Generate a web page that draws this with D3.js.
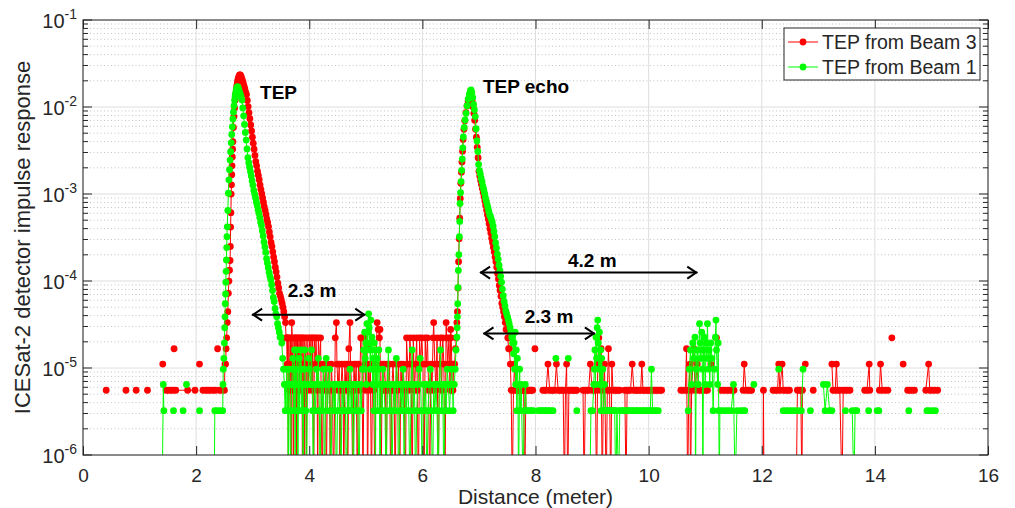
<!DOCTYPE html>
<html>
<head>
<meta charset="utf-8">
<script src="https://cdn.jsdelivr.net/npm/d3@7"></script>
<style>
body { margin: 0; background: #fff; }
svg text { font-family: "Liberation Sans", Helvetica, Arial, sans-serif; fill: #262626; }
</style>
</head>
<body>
<script>
// tick values
const xTicks = [0, 2, 4, 6, 8, 10, 12, 14, 16];
const yDecades = [1e-6, 1e-5, 1e-4, 1e-3, 1e-2, 1e-1];
const yExponents = ['-6', '-5', '-4', '-3', '-2', '-1'];

const seriesNames = ['TEP from Beam 3', 'TEP from Beam 1'];

// response of one photon count for each beam
const beam3Unit = 5.55e-6;
const beam1Unit = 3.23e-6;

// Beam 3 (red): [distance m, photon count], 0 = empty bin, null = gap
const beam3Pre = [[0.41,1],null,[0.76,1],null,[0.94,1],null,[1.14,1],null,[1.41,2],null,
  [1.47,1],[1.51,1],[1.55,1],[1.59,1],null,[1.61,3],null,[1.64,1],[1.85,1],[1.98,1],null,[2.06,2],null,
  [2.12,1],[2.17,1],[2.21,1],[2.25,1],[2.30,1],[2.34,1],null,[2.38,3],null,[2.41,1],[2.45,1]];

const beam3Pulse = [[2.50,1],[2.51,2],[2.52,2],[2.53,3],[2.54,4],[2.55,6],[2.56,8],[2.57,13],[2.58,18],[2.59,24],
  [2.60,31],[2.605,45],[2.61,75],[2.615,110],[2.62,180],[2.625,230],[2.63,300],[2.635,380],[2.64,480],[2.645,590],
  [2.65,720],[2.66,1050],[2.67,1400],[2.68,1750],[2.69,2150],[2.70,2550],[2.71,2900],[2.72,3200],[2.73,3500],
  [2.74,3750],[2.75,3950],[2.76,4100],[2.77,4200],[2.78,4200],[2.79,4100],
  [2.800,3980],[2.815,3715],[2.830,3470],[2.845,3160],[2.860,2950],[2.875,2690],[2.890,2510],[2.905,2140],
  [2.920,1820],[2.935,1550],[2.950,1320],[2.965,1120],[2.980,955],[2.995,810],[3.010,690],[3.025,590],
  [3.040,500],[3.055,425],[3.070,380],[3.085,330],[3.100,295],[3.115,263],[3.130,229],[3.145,204],[3.160,182],
  [3.175,162],[3.190,145],[3.205,129],[3.220,117],[3.235,105],[3.250,93],[3.265,85],[3.280,76],[3.295,66],
  [3.310,58],[3.325,50],[3.340,45],[3.355,39],[3.370,34],[3.385,30],[3.400,26],[3.415,23],[3.430,20],
  [3.445,17],[3.460,15],[3.475,13],[3.490,12],[3.505,11],[3.520,10],[3.535,9],[3.550,8],[3.565,7]];

const beam3Gap = [[3.58,6],[3.59,4],[3.60,4],[3.61,2],[3.62,4],[3.63,0],[3.64,4],[3.65,1],[3.66,2],[3.67,4],
  [3.68,0],[3.69,6],[3.70,4],[3.71,1],[3.72,0],[3.73,4],[3.74,2],[3.75,4],[3.76,1],[3.77,4],[3.78,0],[3.79,4],
  [3.80,2],[3.82,4],[3.83,1],[3.84,4],[3.86,2],[3.87,4],[3.88,0],[3.89,4],[3.90,1],[3.91,0],[3.92,4],[3.94,2],
  [3.95,0],[3.96,4],[3.98,1],[4.00,4],[4.02,2],[4.03,4],[4.05,1],[4.06,4],[4.08,0],[4.09,4],[4.11,2],[4.12,4],
  [4.14,1],[4.15,0],[4.16,4],[4.18,2],[4.20,4],[4.21,1],[4.23,0],[4.25,2],[4.27,1],[4.29,2],[4.30,0],[4.32,1],
  [4.34,2],[4.36,1],[4.37,0],[4.39,2],[4.41,1],[4.43,0],[4.46,4],[4.48,6],[4.49,2],[4.51,1],[4.53,2],[4.54,0],
  [4.56,1],[4.58,2],[4.60,1],[4.61,0],[4.63,2],[4.65,1],[4.67,2],[4.68,0],[4.70,3],[4.72,6],[4.73,2],[4.75,1],
  [4.77,0],[4.79,2],[4.81,1],[4.83,2],[4.85,0],[4.87,2],[4.89,1],[4.91,4],[4.93,4],[4.95,0],[4.97,4],[4.99,2],
  [5.00,1],[5.02,3],[5.03,0],[5.05,2],[5.07,1],[5.08,2],[5.10,0],[5.12,2],[5.14,1],[5.16,0],[5.18,2],[5.20,6],
  [5.22,5],[5.24,4],[5.25,5],[5.27,0],[5.29,2],[5.31,1],[5.33,2],[5.35,1],[5.36,0],[5.38,2],[5.40,1],[5.42,2],
  [5.44,0],[5.46,1],[5.48,2],[5.50,1],[5.52,0],[5.54,2],[5.56,1],[5.58,2],[5.60,0],[5.62,2],[5.64,1],[5.66,2],
  [5.68,1],[5.70,0],[5.72,4],[5.74,2],[5.76,1],[5.78,4],[5.80,2],[5.82,0],[5.84,4],[5.86,1],[5.88,2],[5.90,4],
  [5.91,1],[5.93,0],[5.95,4],[5.97,2],[5.99,4],[6.01,2],[6.03,0],[6.05,4],[6.07,2],[6.09,4],[6.11,1],[6.13,0],
  [6.15,2],[6.17,1],[6.19,4],[6.20,6],[6.22,2],[6.24,1],[6.26,4],[6.28,0],[6.30,2],[6.32,4],[6.34,1],[6.36,4],
  [6.38,2],[6.40,0],[6.42,6],[6.43,4],[6.45,2],[6.47,4],[6.49,1],[6.50,5],[6.51,4],[6.52,2],[6.53,1]];

const beam3Echo = [[6.54,1],[6.555,2],[6.57,2],[6.585,3],[6.60,4],[6.61,6],[6.62,8],[6.63,15],[6.64,30],[6.65,55],
  [6.66,95],[6.67,160],[6.68,240],[6.69,320],[6.70,420],[6.71,560],[6.72,760],[6.735,1000],[6.75,1250],[6.77,1550],
  [6.79,1850],[6.81,2100],[6.83,2280],[6.85,2340],
  [6.865,2290],[6.88,2100],[6.895,1800],[6.91,1530],[6.925,1270],[6.94,1000],[6.955,810],[6.97,620],[6.985,470],
  [7.00,330],[7.015,290],[7.03,258],[7.045,232],[7.06,208],[7.075,187],[7.09,168],[7.105,150],[7.12,134],
  [7.135,118],[7.15,104],[7.165,93],[7.18,82],[7.195,72],[7.21,64],[7.225,56],[7.24,50],[7.255,44],[7.27,39],
  [7.285,34],[7.30,30],[7.315,26],[7.33,22],[7.345,19],[7.36,16],[7.375,14],[7.39,12],[7.405,10],[7.42,9],
  [7.435,8],[7.45,7],[7.465,6],[7.48,5],[7.495,5],[7.51,4],[7.525,3],[7.54,3],[7.555,2]];

const beam3Post = [[7.57,1],[7.59,0],[7.61,1],[7.63,2],[7.65,1],[7.67,1],[7.69,1],[7.71,1],[7.73,1],[7.75,1],
  [7.77,1],[7.79,1],[7.81,0],[7.83,1],[7.85,1],[7.87,1],[7.89,1],[7.91,1],[7.93,1],[7.95,1],null,[7.99,3],null,
  [8.13,1],[8.16,1],[8.19,1],[8.22,2],[8.25,1],[8.28,1],[8.31,1],[8.34,1],[8.37,2],[8.40,1],[8.43,1],[8.46,1],
  [8.49,1],[8.51,0],[8.53,1],[8.55,2],[8.57,0],[8.59,1],[8.62,1],[8.65,1],[8.68,1],[8.71,1],[8.73,1],null,
  [8.84,1],[8.86,0],[8.88,1],[8.91,1],[8.94,1],[8.97,2],[9.00,1],[9.03,1],[9.06,1],[9.08,0],[9.10,2],[9.12,4],
  [9.14,1],[9.16,3],[9.18,0],[9.20,1],[9.22,2],[9.25,0],[9.27,1],[9.29,3],[9.31,1],[9.33,0],[9.35,2],[9.37,1],
  [9.40,1],[9.43,1],[9.46,1],[9.49,1],null,[9.58,1],[9.60,0],[9.62,1],[9.65,1],[9.68,1],[9.71,2],[9.74,1],
  [9.77,1],[9.80,1],[9.83,1],[9.86,1],[9.88,2],[9.90,1],[9.93,1],[9.96,1],[9.99,1],[10.02,1],[10.05,1],
  [10.08,1],[10.11,1],[10.14,1],[10.17,1],[10.20,1],[10.23,1],null,
  [10.57,1],[10.61,1],[10.65,1],[10.67,3],[10.69,0],[10.71,1],[10.73,2],[10.74,0],[10.76,1],[10.80,3],
  [10.82,1],[10.86,2],[10.88,1],[10.92,1],[10.96,1],[11.00,1],[11.04,1],null,[11.10,2],null,[11.20,4],null,
  [11.28,1],[11.32,1],[11.36,1],[11.40,1],[11.44,1],[11.48,1],[11.51,1],null,
  [11.67,1],[11.69,2],[11.72,1],[11.76,1],[11.80,1],[11.82,1],null,[12.02,0],[12.03,1],[12.04,0],null,
  [12.20,1],[12.24,1],[12.28,1],[12.30,2],[12.32,1],[12.36,2],[12.38,1],[12.42,1],[12.46,1],[12.49,1],null,
  [12.61,0],[12.63,1],[12.66,1],[12.69,1],[12.71,0],[12.72,1],null,[12.77,2],null,[12.91,1],null,
  [13.24,2],[13.26,1],[13.30,1],[13.32,2],[13.34,1],[13.38,1],[13.42,0],[13.44,1],[13.48,1],[13.52,1],[13.56,1],null,
  [13.82,1],[13.86,1],[13.90,2],[13.91,1],null,[14.08,1],[14.10,2],[14.13,1],[14.18,1],[14.23,1],null,
  [14.30,4],null,[14.50,2],null,[14.58,1],[14.62,1],[14.66,1],[14.70,1],null,
  [14.90,1],[14.95,2],[14.97,1],[15.01,1],[15.06,1],[15.11,1]];

// Beam 1 (green)
const beam1Pre = [[1.40,0],[1.42,2],[1.43,1],null,[1.60,1],null,[1.77,1],null,[1.83,2],null,[2.06,1],null,
  [2.32,0],[2.33,1],[2.37,1],[2.42,1],null];

const beam1Pulse = [[2.47,1],[2.475,2],[2.48,3],[2.49,4],[2.50,6],[2.505,9],[2.51,12],[2.515,17],[2.52,22],
  [2.525,30],[2.53,40],[2.535,54],[2.54,75],[2.545,100],[2.55,130],[2.56,200],[2.57,316],[2.58,450],[2.59,590],
  [2.60,760],[2.61,950],[2.62,1200],[2.63,1500],[2.64,1830],[2.65,2250],[2.66,2700],[2.67,3200],[2.68,3720],
  [2.69,4150],[2.70,4550],[2.71,4900],[2.72,5150],[2.73,5290],[2.74,5250],
  [2.750,5010],[2.765,4680],[2.780,4370],[2.795,4070],[2.810,3720],[2.825,3020],[2.840,2450],[2.855,1950],
  [2.870,1580],[2.885,1290],[2.900,1020],[2.915,810],[2.930,710],[2.945,630],[2.960,560],[2.975,500],
  [2.990,437],[3.005,390],[3.020,340],[3.035,309],[3.050,282],[3.065,251],[3.080,229],[3.095,204],[3.110,186],
  [3.125,166],[3.140,148],[3.155,135],[3.170,117],[3.185,102],[3.200,87],[3.215,76],[3.230,66],[3.245,56],
  [3.260,50],[3.275,44],[3.290,39],[3.305,35],[3.320,32],[3.335,28],[3.350,24],[3.365,20],[3.380,18],
  [3.395,15],[3.410,13],[3.425,12],[3.440,10],[3.455,9],[3.470,8],[3.485,7],[3.500,7],[3.515,6],[3.530,4],
  [3.545,3],[3.560,2],[3.575,1]];

const beam1Gap = [[3.58,2],[3.59,1],[3.60,3],[3.61,2],[3.62,1],[3.63,0],[3.64,3],[3.65,2],[3.66,1],[3.67,0],
  [3.68,1],[3.69,2],[3.70,3],[3.71,4],[3.72,2],[3.73,1],[3.74,5],[3.75,0],[3.76,3],[3.77,2],[3.78,5],[3.79,1],
  [3.80,0],[3.81,2],[3.82,4],[3.83,1],[3.84,2],[3.85,5],[3.86,3],[3.87,1],[3.88,2],[3.89,0],[3.90,1],[3.91,3],
  [3.92,5],[3.93,2],[3.94,1],[3.95,0],[3.97,2],[3.99,4],[4.00,3],[4.02,2],[4.04,5],[4.06,1],[4.07,0],[4.09,2],
  [4.11,1],[4.13,3],[4.15,2],[4.16,4],[4.18,1],[4.19,0],[4.21,2],[4.23,1],[4.25,3],[4.27,0],[4.29,2],[4.30,4],
  [4.32,1],[4.34,2],[4.36,3],[4.38,0],[4.40,1],[4.42,2],[4.44,1],[4.46,2],[4.48,0],[4.50,1],[4.52,2],[4.54,1],
  [4.56,0],[4.58,2],[4.60,1],[4.62,2],[4.64,1],[4.66,0],[4.68,2],[4.70,1],[4.72,3],[4.74,1],[4.76,2],[4.78,0],
  [4.80,2],[4.82,1],[4.84,2],[4.86,1],[4.88,0],[4.90,2],[4.92,1],[4.94,3],[4.96,5],[4.97,3],[4.98,8],[4.99,4],
  [5.00,6],[5.01,2],[5.02,10],[5.03,5],[5.04,8],[5.05,13],[5.06,9],[5.07,6],[5.08,3],[5.09,11],[5.10,5],
  [5.11,7],[5.12,2],[5.13,4],[5.14,1],[5.15,6],[5.16,3],[5.17,0],[5.18,5],[5.19,2],[5.20,4],[5.21,1],[5.22,3],
  [5.23,5],[5.24,2],[5.25,0],[5.27,2],[5.29,1],[5.30,3],[5.32,2],[5.34,1],[5.36,0],[5.38,2],[5.40,5],[5.42,1],
  [5.44,2],[5.46,0],[5.48,1],[5.50,2],[5.52,1],[5.54,4],[5.56,2],[5.58,0],[5.60,1],[5.62,2],[5.64,1],[5.66,3],
  [5.68,0],[5.70,2],[5.72,1],[5.74,2],[5.76,1],[5.78,0],[5.80,2],[5.82,5],[5.84,1],[5.86,2],[5.88,0],[5.90,1],
  [5.92,2],[5.94,3],[5.96,4],[5.98,1],[6.00,0],[6.02,2],[6.04,1],[6.06,2],[6.08,0],[6.10,1],[6.12,2],[6.14,3],
  [6.16,1],[6.18,0],[6.20,2],[6.22,1],[6.24,2],[6.26,1],[6.28,0],[6.30,2],[6.32,5],[6.34,1],[6.36,2],[6.38,0],
  [6.40,2],[6.42,1],[6.44,3],[6.46,2],[6.48,1],[6.50,2],[6.52,3],[6.53,2]];

const beam1Echo = [[6.545,1],[6.55,2],[6.565,2],[6.58,3],[6.595,5],[6.61,7],[6.615,9],[6.62,12],[6.625,17],
  [6.63,26],[6.636,41],[6.645,62],[6.654,100],[6.66,150],[6.666,241],[6.675,320],[6.685,430],[6.695,580],
  [6.705,780],[6.715,1050],[6.724,1400],[6.74,1800],[6.755,2200],[6.772,2620],[6.79,3200],[6.81,3800],
  [6.83,4350],[6.85,4750],[6.86,4860],
  [6.875,4570],[6.890,3980],[6.905,3310],[6.920,2880],[6.935,2400],[6.950,1740],[6.965,1260],[6.980,955],
  [6.995,676],[7.010,575],[7.025,525],[7.040,468],[7.055,427],[7.070,380],[7.085,347],[7.100,316],[7.115,282],
  [7.130,257],[7.145,234],[7.160,214],[7.175,195],[7.190,178],[7.205,170],[7.220,158],[7.235,148],[7.250,132],
  [7.265,115],[7.280,100],[7.295,85],[7.310,74],[7.325,63],[7.340,55],[7.355,47],[7.370,41],[7.385,35],
  [7.400,30],[7.415,25],[7.430,21],[7.445,18],[7.460,16],[7.475,14],[7.490,13],[7.505,12],[7.520,11],
  [7.535,10],[7.550,9],[7.565,8],[7.580,7],[7.595,6],[7.610,4.5]];

const beam1Post = [[7.62,6],[7.63,3],[7.64,8],[7.65,2],[7.66,5],[7.67,1],[7.68,4],[7.69,2],[7.70,0],[7.72,3],
  [7.73,1],[7.75,2],[7.78,0],[7.80,1],[7.82,2],[7.84,1],[7.87,1],[7.90,1],[7.93,1],[7.96,1],null,
  [8.05,1],[8.08,1],[8.11,1],[8.14,1],[8.17,1],[8.20,1],[8.23,1],[8.27,1],[8.31,1],null,[8.36,4],null,
  [8.58,4],null,[8.73,1],null,[8.96,0],[8.98,1],[9.01,1],[9.03,2],[9.04,3],[9.05,5],[9.06,2],[9.07,7],[9.08,4],
  [9.09,9],[9.10,11],[9.11,6],[9.12,3],[9.13,8],[9.14,2],[9.15,5],[9.16,1],[9.17,4],[9.18,2],[9.19,3],[9.20,1],
  [9.22,2],[9.24,1],[9.26,1],[9.28,1],[9.30,1],[9.32,1],[9.35,1],[9.38,1],[9.40,1],[9.42,0],[9.44,1],[9.47,0],
  [9.49,1],[9.52,1],[9.55,1],[9.58,1],[9.61,1],[9.64,1],[9.67,1],[9.70,1],[9.73,1],[9.76,1],[9.79,1],[9.82,1],
  [9.85,1],[9.88,1],[9.91,1],[9.94,1],[9.97,1],[10.00,1],[10.03,1],[10.05,3],[10.07,1],[10.10,1],[10.13,1],
  [10.17,1],null,
  [10.70,1],[10.72,3],[10.74,5],[10.76,2],[10.78,6],[10.80,4],[10.82,7],[10.83,0],[10.84,3],[10.86,5],[10.88,2],
  [10.90,10],[10.91,6],[10.92,4],[10.94,8],[10.95,3],[10.96,0],[10.97,5],[10.98,7],[11.00,2],[11.02,6],[11.03,4],
  [11.04,10],[11.06,3],[11.07,5],[11.08,2],[11.10,6],[11.12,4],[11.14,1],[11.16,3],[11.18,7],[11.19,11],
  [11.20,5],[11.22,2],[11.23,6],[11.24,1],[11.25,0],[11.26,1],[11.31,1],[11.36,1],[11.41,1],[11.46,1],[11.50,2],
  [11.53,0],[11.56,1],[11.62,1],[11.67,1],[11.70,1],null,[11.86,2],null,[12.30,3],null,
  [12.38,1],[12.43,1],[12.48,1],[12.53,1],[12.58,1],[12.64,1],[12.70,1],[12.73,3],null,[12.86,1],null,
  [13.09,2],[13.12,1],[13.16,2],[13.20,1],[13.24,1],null,[13.48,1],null,[13.60,1],[13.63,0],[13.65,1],[13.68,1],null,
  [13.89,1],null,[14.04,1],[14.07,1],null,[14.60,1],null,[14.92,1],[14.96,1],[15.02,1],[15.07,1]];

// annotations (distance m, response)
const labelTexts = ['TEP', 'TEP echo', '2.3 m', '4.2 m', '2.3 m'];
const labelX = [3.13, 7.07, 3.62, 8.575, 7.81];
const labelY = [1.24e-2, 1.45e-2, 6.55e-5, 1.45e-4, 3.29e-5];
const arrowFrom = [2.99, 7.02, 7.08];
const arrowTo = [4.99, 10.86, 9.05];
const arrowY = [4.1e-5, 1.25e-4, 2.5e-5];

const series = [
  { name: seriesNames[0], color: '#ff0000', unit: beam3Unit,
    points: [...beam3Pre, null, ...beam3Pulse, ...beam3Gap, ...beam3Echo, ...beam3Post] },
  { name: seriesNames[1], color: '#00ff00', unit: beam1Unit,
    points: [...beam1Pre, ...beam1Pulse, ...beam1Gap, ...beam1Echo, ...beam1Post] }
];

const W = 1015, H = 508;
const margin = { top: 20, right: 27, bottom: 53, left: 83 };
const width = W - margin.left - margin.right;
const height = H - margin.top - margin.bottom;

const svg = d3.select('body').append('svg').attr('width', W).attr('height', H);
const g = svg.append('g').attr('transform', `translate(${margin.left},${margin.top})`);

const x = d3.scaleLinear().domain([0, 16]).range([0, width]);
const y = d3.scaleLog().domain([1e-6, 1e-1]).range([height, 0]);

// minor values 2..9 per decade
const yMinor = [];
yDecades.slice(0, -1).forEach(d => { for (let k = 2; k <= 9; k++) yMinor.push(d * k); });

// grid
g.append('g').selectAll('line').data(yMinor).enter().append('line')
  .attr('x1', 0).attr('x2', width).attr('y1', d => y(d)).attr('y2', d => y(d))
  .attr('stroke', '#c4c4c4').attr('stroke-width', 1).attr('stroke-dasharray', '1,2.5');
g.append('g').selectAll('line').data(yDecades).enter().append('line')
  .attr('x1', 0).attr('x2', width).attr('y1', d => y(d)).attr('y2', d => y(d))
  .attr('stroke', '#dedede').attr('stroke-width', 1);
g.append('g').selectAll('line').data(xTicks).enter().append('line')
  .attr('y1', 0).attr('y2', height).attr('x1', d => x(d)).attr('x2', d => x(d))
  .attr('stroke', '#dedede').attr('stroke-width', 1);

// data
g.append('clipPath').attr('id', 'clip').append('rect').attr('width', width).attr('height', height);
const plot = g.append('g').attr('clip-path', 'url(#clip)');

series.forEach(s => {
  const line = d3.line()
    .defined(d => d !== null)
    .x(d => x(d[0]))
    .y(d => d[1] > 0 ? y(d[1] * s.unit) : height + 40);
  plot.append('path').datum(s.points)
    .attr('d', line).attr('fill', 'none')
    .attr('stroke', s.color).attr('stroke-width', 1);
  plot.append('g').selectAll('circle')
    .data(s.points.filter(d => d && d[1] > 0))
    .enter().append('circle')
    .attr('cx', d => x(d[0])).attr('cy', d => y(d[1] * s.unit))
    .attr('r', 3.4).attr('fill', s.color);
});

// axes box and ticks (inward, MATLAB style)
const axisColor = '#262626';
const xAxis = g.append('g').attr('transform', `translate(0,${height})`)
  .call(d3.axisBottom(x).tickValues(xTicks).tickSizeInner(-9).tickSizeOuter(0).tickPadding(14));
xAxis.select('.domain').remove();
xAxis.selectAll('line').attr('stroke', axisColor);
xAxis.selectAll('text').attr('font-size', 19).attr('font-family', null).attr('fill', axisColor);

g.append('g').call(d3.axisTop(x).tickValues(xTicks).tickSizeInner(-9).tickSizeOuter(0).tickFormat(''))
  .call(a => a.select('.domain').remove())
  .selectAll('line').attr('stroke', axisColor);

[0, width].forEach((x0, i) => {
  const dir = i === 0 ? 1 : -1;
  g.append('g').selectAll('line').data(yDecades).enter().append('line')
    .attr('x1', x0).attr('x2', x0 + dir * 9).attr('y1', d => y(d)).attr('y2', d => y(d))
    .attr('stroke', axisColor);
  g.append('g').selectAll('line').data(yMinor).enter().append('line')
    .attr('x1', x0).attr('x2', x0 + dir * 5).attr('y1', d => y(d)).attr('y2', d => y(d))
    .attr('stroke', axisColor);
});

g.append('rect').attr('width', width).attr('height', height)
  .attr('fill', 'none').attr('stroke', axisColor).attr('stroke-width', 1);

// y tick labels 10^n
const yLab = g.append('g').selectAll('text').data(yDecades).enter().append('text')
  .attr('x', -6).attr('y', d => y(d) + 8).attr('text-anchor', 'end').attr('font-size', 20);
yLab.append('tspan').text('10');
yLab.append('tspan').attr('dy', -9).attr('font-size', 14).text((d, i) => yExponents[i]);

// axis titles
svg.append('text').attr('x', margin.left + width / 2).attr('y', 504)
  .attr('text-anchor', 'middle').attr('font-size', 21).text('Distance (meter)');
svg.append('text').attr('transform', `translate(30,${margin.top + height / 2}) rotate(-90)`)
  .attr('text-anchor', 'middle').attr('font-size', 22).text('ICESat-2 detector impulse response');

// annotations
const arrowG = g.append('g').attr('stroke', '#000').attr('stroke-width', 2).attr('fill', 'none');
arrowFrom.forEach((a, i) => {
  const x0 = x(a), x1 = x(arrowTo[i]), yy = y(arrowY[i]);
  arrowG.append('line').attr('x1', x0).attr('x2', x1).attr('y1', yy).attr('y2', yy);
  arrowG.append('path').attr('d', `M${x0 + 10},${yy - 6}L${x0 + 1},${yy}L${x0 + 10},${yy + 6}`);
  arrowG.append('path').attr('d', `M${x1 - 10},${yy - 6}L${x1 - 1},${yy}L${x1 - 10},${yy + 6}`);
});
g.append('g').selectAll('text').data(labelTexts).enter().append('text')
  .attr('x', (d, i) => x(labelX[i])).attr('y', (d, i) => y(labelY[i]))
  .attr('font-size', 19).attr('font-weight', 'bold').style('fill', '#000').text(d => d);

// legend
const lg = svg.append('g').attr('transform', 'translate(784,28)');
lg.append('rect').attr('width', 196).attr('height', 52)
  .attr('fill', '#fff').attr('stroke', axisColor).attr('stroke-width', 1);
series.forEach((s, i) => {
  const yy = 14 + i * 25;
  lg.append('line').attr('x1', 4).attr('x2', 34).attr('y1', yy).attr('y2', yy)
    .attr('stroke', s.color).attr('stroke-width', 1);
  lg.append('circle').attr('cx', 19).attr('cy', yy).attr('r', 3.4).attr('fill', s.color);
  lg.append('text').attr('x', 38).attr('y', yy + 7).attr('font-size', 19.5).text(s.name);
});
</script>
</body>
</html>
